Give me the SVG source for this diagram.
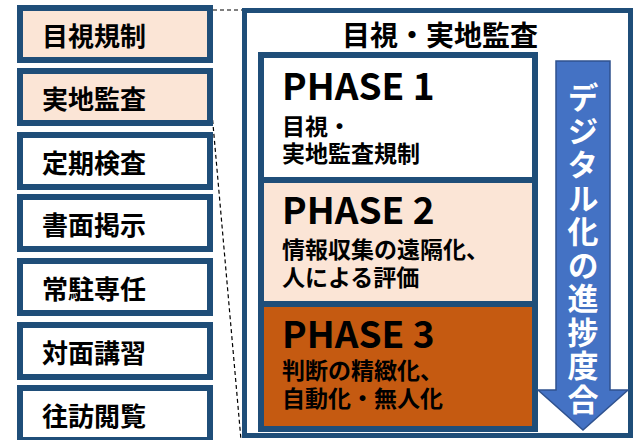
<svg xmlns="http://www.w3.org/2000/svg" width="639" height="440" viewBox="0 0 639 440">
<style>
.lb{stroke:#1F4E79;stroke-width:6;}
.lt{font-family:"Noto Sans CJK JP","Noto Sans",sans-serif;font-weight:bold;font-size:26px;fill:#000;dominant-baseline:central;}
.ph{stroke:#1F4E79;stroke-width:6;}
.pt{font-family:"Noto Sans CJK JP","Noto Sans",sans-serif;font-weight:bold;fill:#000;}
.big{font-size:37px;}
.sm{font-size:23px;}
.at{font-family:"Noto Sans CJK JP","Noto Sans",sans-serif;font-weight:bold;font-size:31px;fill:#fff;}
.dash{fill:none;stroke:#000;stroke-width:1.2;stroke-dasharray:4 3;}
</style>
<rect width="639" height="440" fill="#fff"/>
<g id="connectors">
<line class="dash" x1="213" y1="10" x2="243" y2="10"/>
<line class="dash" x1="212" y1="113" x2="241" y2="440"/>
</g>
<g id="n1"><rect class="lb" x="20" y="8" width="190" height="52" fill="#FBE5D6"/><text class="lt" x="42" y="34">目視規制</text></g>
<g id="n2"><rect class="lb" x="20" y="71" width="190" height="52" fill="#FBE5D6"/><text class="lt" x="42" y="97">実地監査</text></g>
<g id="n3"><rect class="lb" x="20" y="135" width="190" height="52" fill="#fff"/><text class="lt" x="42" y="161">定期検査</text></g>
<g id="n4"><rect class="lb" x="20" y="197" width="190" height="52" fill="#fff"/><text class="lt" x="42" y="223">書面掲示</text></g>
<g id="n5"><rect class="lb" x="20" y="261" width="190" height="52" fill="#fff"/><text class="lt" x="42" y="287">常駐専任</text></g>
<g id="n6"><rect class="lb" x="20" y="325" width="190" height="52" fill="#fff"/><text class="lt" x="42" y="351">対面講習</text></g>
<g id="n7"><rect class="lb" x="20" y="388" width="190" height="52" fill="#fff"/><text class="lt" x="42" y="414">往訪閲覧</text></g>
<g id="main">
<rect x="244.5" y="10.5" width="386" height="425" fill="#fff" stroke="#1F4E79" stroke-width="5"/>
<text x="440" y="46" text-anchor="middle" font-family="Noto Sans CJK JP, Noto Sans, sans-serif" font-weight="bold" font-size="28">目視・実地監査</text>
</g>
<g id="phase1"><rect class="ph" x="261" y="55" width="274" height="125" fill="#fff"/>
<text class="pt"><tspan class="big" x="282" y="100">PHASE 1</tspan><tspan class="sm" x="282" y="135">目視・</tspan><tspan class="sm" x="282" y="162">実地監査規制</tspan></text></g>
<g id="phase2"><rect class="ph" x="261" y="180" width="274" height="124" fill="#FBE5D6"/>
<text class="pt"><tspan class="big" x="282" y="224">PHASE 2</tspan><tspan class="sm" x="282" y="258">情報収集の遠隔化、</tspan><tspan class="sm" x="282" y="286">人による評価</tspan></text></g>
<g id="phase3"><rect class="ph" x="261" y="304" width="274" height="125" fill="#C55A11"/>
<text class="pt"><tspan class="big" x="282" y="348">PHASE 3</tspan><tspan class="sm" x="282" y="379">判断の精緻化、</tspan><tspan class="sm" x="282" y="407">自動化・無人化</tspan></text></g>
<g id="arrow">
<polygon points="556,61 610,61 610,390 628,390 583,430 538,390 556,390" fill="#4472C4" stroke="#2F528F" stroke-width="1.5"/>
<text class="at" x="583" y="82" writing-mode="vertical-rl" letter-spacing="2.5">デジタル化の進捗度合</text>
</g>
</svg>
